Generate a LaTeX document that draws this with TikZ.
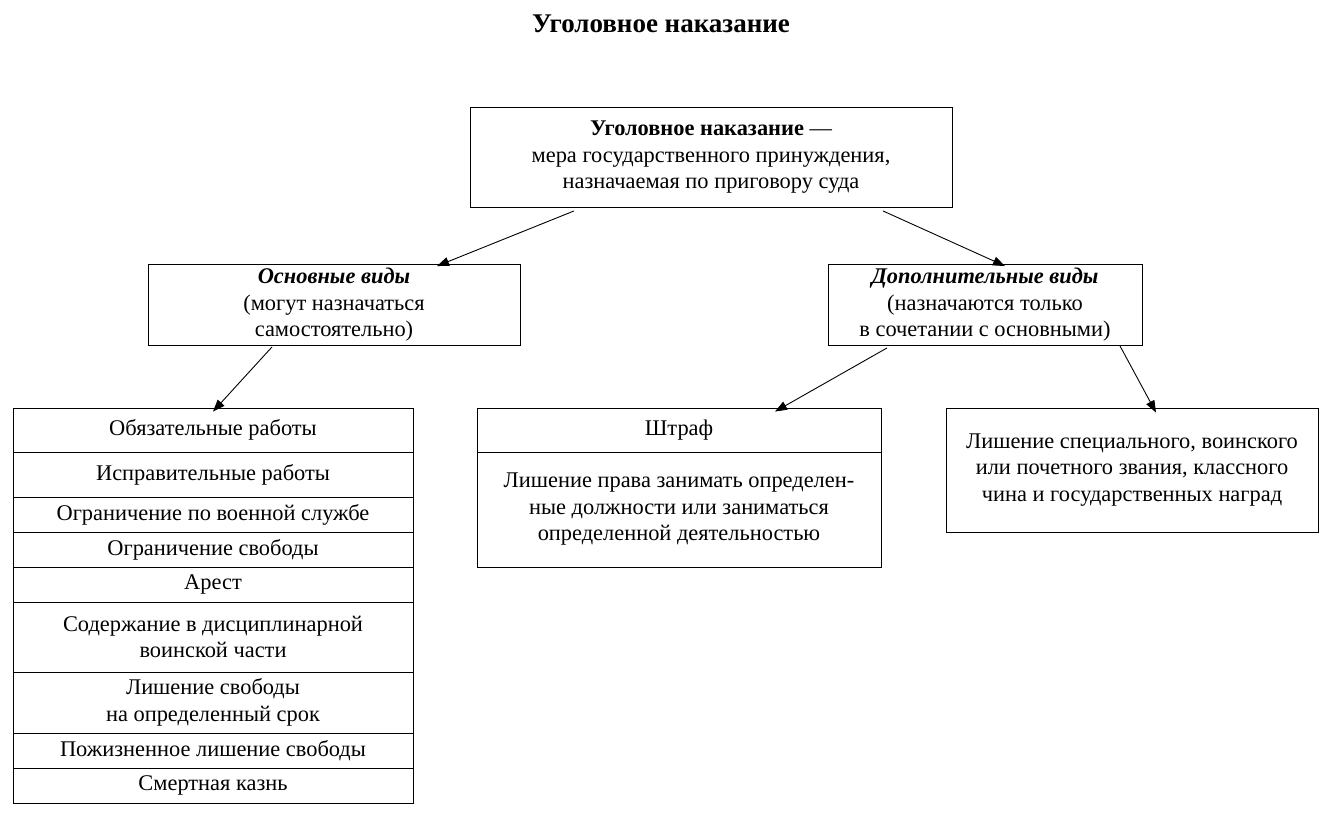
\documentclass[tikz,border=0pt]{standalone}
\usepackage{fontspec}
\setmainfont{Liberation Serif}
\usetikzlibrary{arrows.meta}
\begin{document}
\begin{tikzpicture}[x=1pt,y=-1pt,
  box/.style={draw, line width=0.9pt, inner sep=0pt, align=center,
    font=\fontsize{22.4}{26.5}\selectfont},
  arr/.style={line width=0.9pt, -{Triangle[length=12pt,width=9pt]}}]
\useasboundingbox (0,0) rectangle (1324,816);
\node[font=\bfseries\fontsize{27}{32}\selectfont] (title) at (661,24) {Уголовное наказание};
% top box
\node[box, minimum width=482pt, minimum height=100pt] (top) at (711,157.5)
  {\textbf{Уголовное наказание} —\\мера государственного принуждения,\\назначаемая по приговору суда};
% second level
\node[box, minimum width=372pt, minimum height=81pt] (osn) at (334,305)
  {\textbf{\textit{Основные виды}}\\(могут назначаться\\самостоятельно)};
\node[box, minimum width=314pt, minimum height=81pt] (dop) at (985,305)
  {\textbf{\textit{Дополнительные виды}}\\(назначаются только\\в сочетании с основными)};
% left list
\node[box, minimum width=400pt, minimum height=44pt] (r1) at (213,430) {Обязательные работы};
\node[box, minimum width=400pt, minimum height=45pt] (r2) at (213,474.5) {Исправительные работы};
\node[box, minimum width=400pt, minimum height=35pt] (r3) at (213,514.5) {Ограничение по военной службе};
\node[box, minimum width=400pt, minimum height=35pt] (r4) at (213,549.5) {Ограничение свободы};
\node[box, minimum width=400pt, minimum height=35pt] (r5) at (213,584.5) {Арест};
\node[box, minimum width=400pt, minimum height=70pt] (r6) at (213,637) {Содержание в дисциплинарной\\воинской части};
\node[box, minimum width=400pt, minimum height=61pt] (r7) at (213,702.5) {Лишение свободы\\на определенный срок};
\node[box, minimum width=400pt, minimum height=35pt] (r8) at (213,750.5) {Пожизненное лишение свободы};
\node[box, minimum width=400pt, minimum height=35pt] (r9) at (213,785.5) {Смертная казнь};
% middle
\node[box, minimum width=404pt, minimum height=44pt] (m1) at (679,430) {Штраф};
\node[box, minimum width=404pt, minimum height=115pt] (m2) at (679,509.5) {Лишение права занимать определен-\\ные должности или заниматься\\определенной деятельностью};
% right
\node[box, minimum width=372pt, minimum height=124pt] (rt) at (1132,470) {Лишение специального, воинского\\или почетного звания, классного\\чина и государственных наград};
% arrows
\draw[arr] ([xshift=-137pt,yshift=-3pt]top.south) -- ([xshift=103pt,yshift=-2pt]osn.north);
\draw[arr] ([xshift=172pt,yshift=-3pt]top.south) -- ([xshift=20pt,yshift=-2pt]dop.north);
\draw[arr] ([xshift=-62pt,yshift=-1pt]osn.south) -- ([yshift=-4pt]r1.north);
\draw[arr] ([xshift=-98pt,yshift=-2pt]dop.south) -- ([xshift=96pt,yshift=-4pt]m1.north);
\draw[arr] ([xshift=135pt,yshift=0pt]dop.south) -- ([xshift=24pt,yshift=-5pt]rt.north);
\end{tikzpicture}
\end{document}
